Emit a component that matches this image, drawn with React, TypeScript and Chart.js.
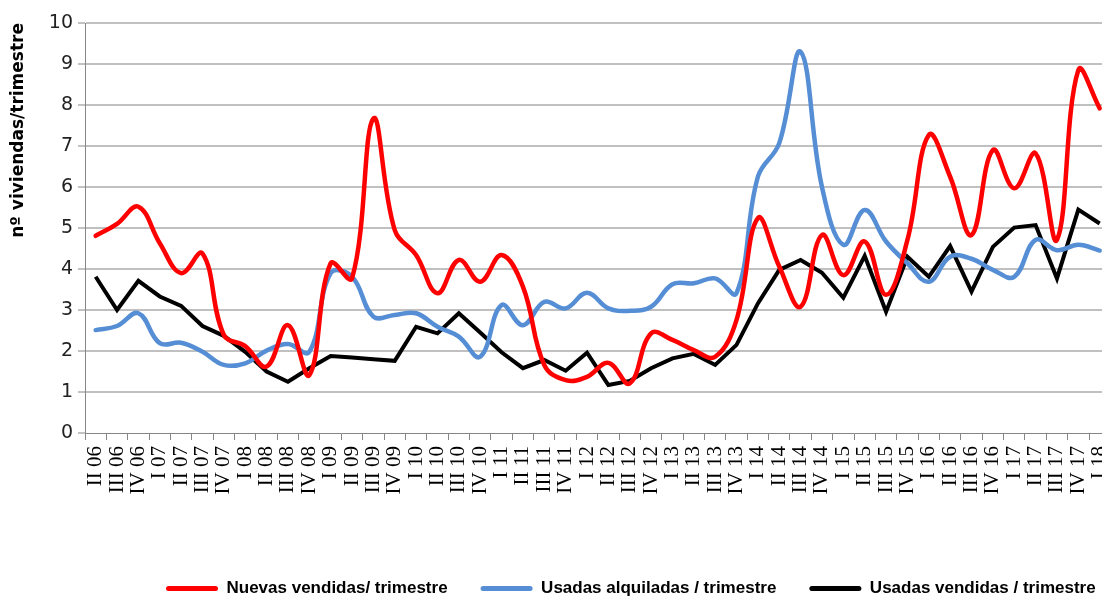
import React, { useEffect, useRef } from 'react';
import { Chart, registerables } from 'chart.js';

Chart.register(...registerables);

const categories = [
  'II 06', 'III 06', 'IV 06', 'I 07', 'II 07', 'III 07', 'IV 07', 'I 08', 'II 08', 'III 08', 'IV 08',
  'I 09', 'II 09', 'III 09', 'IV 09', 'I 10', 'II 10', 'III 10', 'IV 10', 'I 11', 'II 11', 'III 11', 'IV 11',
  'I 12', 'II 12', 'III 12', 'IV 12', 'I 13', 'II 13', 'III 13', 'IV 13', 'I 14', 'II 14', 'III 14', 'IV 14',
  'I 15', 'II 15', 'III 15', 'IV 15', 'I 16', 'II 16', 'III 16', 'IV 16', 'I 17', 'II 17', 'III 17', 'IV 17', 'I 18',
];

const nuevasVendidas = [
  4.81, 5.10, 5.52, 4.63, 3.90, 4.38, 2.39, 2.12, 1.62, 2.63, 1.41,
  4.14, 3.77, 7.67, 4.95, 4.34, 3.41, 4.22, 3.69, 4.34, 3.57, 1.66, 1.29,
  1.37, 1.71, 1.21, 2.43, 2.27, 2.02, 1.86, 2.76, 5.24, 4.06, 3.08, 4.83,
  3.85, 4.67, 3.37, 4.71, 7.27, 6.25, 4.83, 6.90, 5.97, 6.82, 4.71, 8.85, 7.92,
];

const usadasAlquiladas = [
  2.51, 2.61, 2.92, 2.19, 2.20, 1.98, 1.66, 1.70, 2.01, 2.17, 1.98,
  3.90, 3.81, 2.84, 2.88, 2.92, 2.59, 2.35, 1.86, 3.12, 2.63, 3.20, 3.04,
  3.42, 3.04, 2.98, 3.08, 3.63, 3.65, 3.77, 3.41, 6.25, 7.07, 9.30, 6.00,
  4.59, 5.44, 4.67, 4.14, 3.69, 4.30, 4.25, 3.98, 3.81, 4.71, 4.46, 4.59, 4.45,
];

const usadasVendidas = [
  3.81, 3.00, 3.71, 3.33, 3.10, 2.61, 2.37, 1.98, 1.50, 1.25, 1.58,
  1.88, 1.84, 1.80, 1.76, 2.59, 2.43, 2.92, 2.45, 1.97, 1.58, 1.78, 1.52,
  1.96, 1.17, 1.27, 1.58, 1.82, 1.93, 1.66, 2.15, 3.16, 3.98, 4.22, 3.91,
  3.30, 4.32, 2.96, 4.30, 3.81, 4.56, 3.45, 4.54, 5.01, 5.07, 3.77, 5.45, 5.11,
];

const seriesLabels = ['Nuevas vendidas/ trimestre', 'Usadas alquiladas / trimestre', 'Usadas vendidas / trimestre'];
const yAxisTitle = 'nº viviendas/trimestre';

const CANVAS_W = 1131;
const CANVAS_H = 607;
const LEGEND_PAD = 33;
const LEGEND_FONT = 17;

const legendOffset = {
  id: 'legendOffset',
  afterLayout(chart: any) {
    const lg = chart.legend;
    if (lg) {
      const shift = 166 - LEGEND_PAD - lg.left;
      lg.left += shift;
      lg.right += shift;
    }
  },
};

export default function App() {
  const ref = useRef<HTMLCanvasElement | null>(null);

  useEffect(() => {
    if (!ref.current) return;
    const colors = ['#ff0000', '#558ed5', '#000000'];
    const chart = new Chart(ref.current, {
      type: 'line',
      data: {
        labels: categories,
        datasets: [
          { label: seriesLabels[0], data: nuevasVendidas, borderColor: colors[0], backgroundColor: colors[0], borderWidth: 4.5, pointRadius: 0, tension: 0.4, borderJoinStyle: 'round', borderCapStyle: 'round' },
          { label: seriesLabels[1], data: usadasAlquiladas, borderColor: colors[1], backgroundColor: colors[1], borderWidth: 4.5, pointRadius: 0, tension: 0.4, borderJoinStyle: 'round', borderCapStyle: 'round' },
          { label: seriesLabels[2], data: usadasVendidas, borderColor: colors[2], backgroundColor: colors[2], borderWidth: 4, pointRadius: 0, tension: 0, borderJoinStyle: 'miter', borderCapStyle: 'butt' },
        ],
      },
      options: {
        responsive: false,
        animation: false,
        layout: { padding: { top: 23, right: 11, left: 0, bottom: 0 } },
        plugins: {
          tooltip: { enabled: false },
          legend: {
            position: 'bottom',
            align: 'start',
            labels: {
              boxWidth: 52,
              boxHeight: 5,
              padding: LEGEND_PAD,
              color: '#000',
              font: { family: '"Liberation Sans", Arial, sans-serif', size: LEGEND_FONT, weight: 'bold' },
              generateLabels: (c: any) =>
                c.data.datasets.map((ds: any, i: number) => ({
                  text: ds.label,
                  fillStyle: ds.borderColor,
                  strokeStyle: ds.borderColor,
                  lineWidth: 0,
                  hidden: false,
                  datasetIndex: i,
                  borderRadius: 2.5,
                  fontColor: '#000',
                })),
            },
          },
        },
        scales: {
          x: {
            type: 'category',
            offset: true,
            afterFit: (s: any) => { s.height = CANVAS_H - (LEGEND_FONT + LEGEND_PAD + 10) - 433; },
            grid: { display: true, offset: true, drawOnChartArea: false, drawTicks: true, tickLength: 7, color: '#868686', lineWidth: 1 },
            border: { display: true, color: '#868686', width: 1 },
            ticks: {
              autoSkip: false,
              maxRotation: 90,
              minRotation: 90,
              padding: 6,
              color: '#000',
              font: { family: '"Liberation Serif", "Times New Roman", serif', size: 21 },
            },
          },
          y: {
            min: 0,
            max: 10,
            afterFit: (s: any) => { s.width = 85; },
            ticks: {
              stepSize: 1,
              padding: 5,
              color: '#222',
              font: { family: '"DejaVu Sans", Verdana, sans-serif', size: 19 },
            },
            grid: {
              color: (ctx: any) => (ctx.tick && ctx.tick.value === 0 ? 'rgba(0,0,0,0)' : '#c0c0c0'),
              lineWidth: 2,
              tickColor: '#868686',
              tickLength: 7,
              tickWidth: 1,
            },
            border: { display: true, color: '#868686', width: 1 },
            title: {
              display: true,
              text: yAxisTitle,
              align: 'end',
              color: '#000',
              padding: { top: 8, bottom: 0 },
              font: { family: '"DejaVu Sans", Verdana, sans-serif', size: 17, weight: 'bold' },
            },
          },
        },
      },
      plugins: [legendOffset],
    } as any);
    return () => chart.destroy();
  }, []);

  return (
    <div style={{ position: 'fixed', left: 0, top: 0, width: 1102, height: 596, overflow: 'hidden', background: '#fff' }}>
      <canvas ref={ref} width={CANVAS_W} height={CANVAS_H} style={{ display: 'block', width: CANVAS_W, height: CANVAS_H }} />
    </div>
  );
}
